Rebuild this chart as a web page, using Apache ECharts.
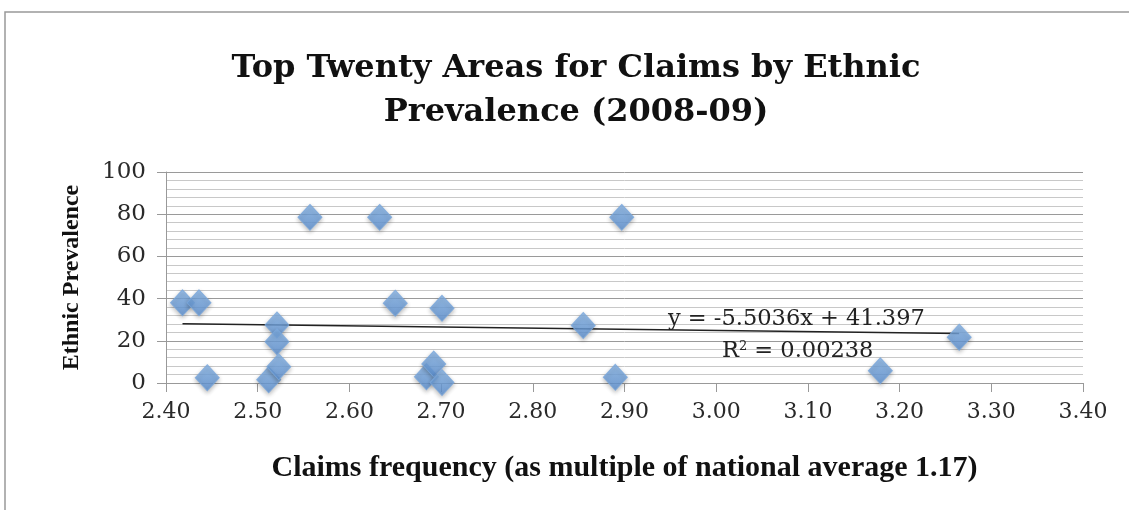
<!DOCTYPE html>
<html>
<head>
    <meta charset="utf-8">
    <title>Top Twenty Areas for Claims by Ethnic Prevalence</title>
    <script src="https://cdn.jsdelivr.net/npm/echarts@6/dist/echarts.min.js"></script>
    <style>
        html, body { margin: 0; padding: 0; background: #fff; }
        #chart { width: 1129px; height: 510px; }
    </style>
</head>
<body>
<div id="chart"></div>
<script>
    // claims frequency (x) and ethnic prevalence (y)
    var claimsFreq = [2.418, 2.436, 2.445, 2.512, 2.521, 2.521, 2.523, 2.557, 2.633, 2.650,
                      2.684, 2.692, 2.701, 2.701, 2.855, 2.890, 2.897, 3.179, 3.265];
    var prevalence = [38, 38, 2.5, 1.5, 27.5, 19.6, 7.7, 78.5, 78.5, 37.8,
                      3, 9, 35.4, 0.2, 27.3, 2.7, 78.5, 5.8, 21.7];
    // trendline coefficients shown on the chart
    var slope = -5.5036;
    var intercept = 41.397;
    var trendX = [2.418, 3.265];

    var points = claimsFreq.map(function (x, i) { return [x, prevalence[i]]; });
    var trend = trendX.map(function (x) { return [x, slope * x + intercept]; });

    var serif = '"DejaVu Serif", serif';
    var narrow = '"Liberation Serif", serif';
    var myChart = echarts.init(document.getElementById('chart'));
    var option = {
        backgroundColor: '#fff',
        animation: false,
        title: {
            text: 'Top Twenty Areas for Claims by Ethnic\nPrevalence (2008-09)',
            left: 571,
            top: 42,
            textAlign: 'center',
            textStyle: {
                fontFamily: serif,
                fontWeight: 'bold',
                fontSize: 32,
                lineHeight: 44,
                color: '#111'
            }
        },
        grid: { left: 166, right: 46, top: 172, bottom: 127 },
        xAxis: {
            type: 'value',
            min: 2.4,
            max: 3.4,
            interval: 0.1,
            name: 'Claims frequency (as multiple of national average 1.17)',
            nameLocation: 'middle',
            nameGap: 70,
            nameTextStyle: { fontFamily: narrow, fontWeight: 'bold', fontSize: 30, color: '#111' },
            axisLine: { show: true, lineStyle: { color: '#999' } },
            axisTick: { show: true, inside: false, length: 9, lineStyle: { color: '#999' } },
            axisLabel: {
                fontFamily: serif, fontSize: 22, color: '#2a2a2a', margin: 18,
                formatter: function (v) { return v.toFixed(2); }
            },
            splitLine: { show: false }
        },
        yAxis: {
            type: 'value',
            min: 0,
            max: 100,
            interval: 20,
            name: 'Ethnic Prevalence',
            nameLocation: 'middle',
            nameGap: 82,
            nameTextStyle: { fontFamily: narrow, fontWeight: 'bold', fontSize: 24, color: '#111' },
            axisLine: { show: true, lineStyle: { color: '#999' } },
            axisTick: { show: true, length: 9, lineStyle: { color: '#999' } },
            axisLabel: { fontFamily: serif, fontSize: 23, color: '#2a2a2a', margin: 20 },
            splitLine: { show: true, lineStyle: { color: '#9a9a9a', width: 1 } },
            minorTick: { show: false, splitNumber: 5 },
            minorSplitLine: { show: true, lineStyle: { color: '#c8c8c8', width: 1 } }
        },
        series: [{
            name: 'Areas',
            type: 'scatter',
            symbol: 'diamond',
            symbolSize: [24, 26],
            data: points,
            itemStyle: {
                color: new echarts.graphic.LinearGradient(0, 0, 0, 1, [
                    { offset: 0, color: '#86b5e8' },
                    { offset: 1, color: '#5a8fd2' }
                ]),
                borderColor: '#7aa7dc',
                borderWidth: 1,
                shadowBlur: 4,
                shadowColor: 'rgba(0,0,0,0.3)',
                shadowOffsetY: 2
            },
            z: 3
        }, {
            name: 'Trend',
            type: 'line',
            data: trend,
            symbol: 'none',
            lineStyle: { color: '#222', width: 1.5 },
            z: 2
        }],
        graphic: [{
            type: 'polyline',
            shape: { points: [[5, 510], [5, 12], [1129, 12]] },
            style: { stroke: '#999', lineWidth: 1.5, fill: null }
        }, {
            type: 'text',
            left: 668, top: 308,
            style: { text: 'y = -5.5036x + 41.397', font: '22.5px ' + serif, fill: '#222' },
            z: 10
        }, {
            type: 'text',
            left: 722, top: 340,
            style: {
                text: '{a|R}{s|2}{a| = 0.00238}',
                rich: {
                    a: { font: '22.5px ' + serif, fill: '#222', color: '#222' },
                    s: { font: '13px ' + serif, fill: '#222', color: '#222', verticalAlign: 'top', padding: [0, 0, 10, 0] }
                }
            },
            z: 10
        }]
    };
    myChart.setOption(option);
</script>
</body>
</html>
